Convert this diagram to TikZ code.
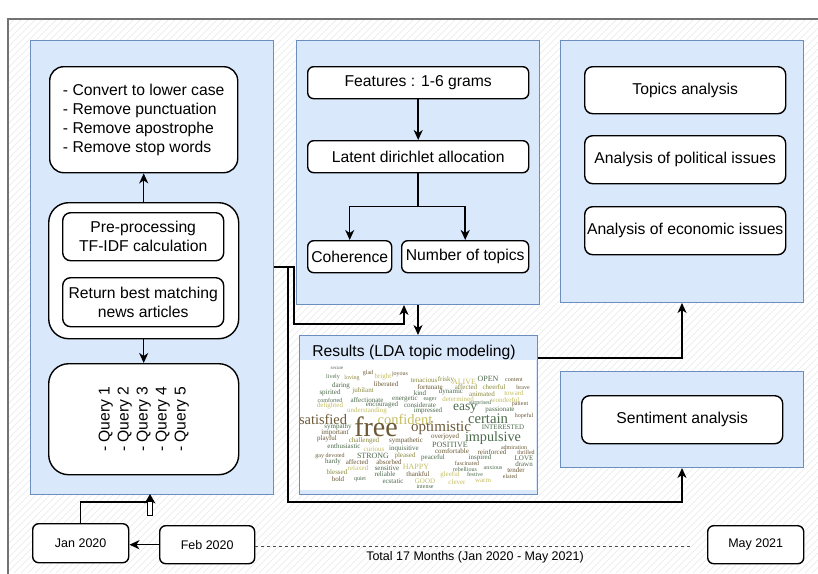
\documentclass[tikz,border=0pt]{standalone}
\usepackage{fontspec}
\setmainfont{Liberation Sans}
\newfontfamily\cloudfont{Liberation Serif}
\usetikzlibrary{arrows.meta,calc}
\definecolor{pfill}{HTML}{DAE8FC}
\definecolor{pline}{HTML}{6C8EBF}
\definecolor{cgreen}{HTML}{4C6A4C}
\definecolor{cbrown}{HTML}{6B5836}
\definecolor{colive}{HTML}{8A8A3C}
\definecolor{cyell}{HTML}{C4BE62}
\newcommand\dgmfont{\fontsize{15.7}{19}\selectfont}
\newcommand\smallfnt{\fontsize{12.5}{15}\selectfont}
\tikzset{
 panel/.style={draw=pline, fill=pfill, line width=1pt, anchor=north west, inner sep=0pt},
 rbox/.style={draw=black, fill=white, line width=1.4pt, rounded corners=#1, anchor=north west, inner sep=0pt, align=center, font=\dgmfont},
 rbox/.default=7pt,
 conn/.style={line width=1.5pt, -{Stealth[length=10pt,width=9pt,inset=3pt]}},
 plain/.style={line width=1.5pt},
 wc/.style={inner sep=0pt, font=\cloudfont\fontsize{#1}{#1}\selectfont},
}
\begin{document}
\begin{tikzpicture}[x=1pt,y=-1pt]
\useasboundingbox (0,0) rectangle (818,573);
\fill[white] (0,0) rectangle (818,573);
% hatched background
\begin{scope}
\clip (8,19) rectangle (818,573);
\foreach \i in {-560,-553,...,818} \draw[black!9, line width=0.5pt] (\i,573) -- ++(560,-560);
\end{scope}
\draw[line width=2pt, black!55] (8,19) rectangle (830,590);

% panel 1
\node[panel, minimum width=243pt, minimum height=454pt] (p1) at (30,40) {};
\node[rbox=14pt, minimum width=188pt, minimum height=106pt, align=left] (conv) at (49,66)
 {- Convert to lower case\\- Remove punctuation\\- Remove apostrophe\\- Remove stop words};
\node[rbox=20pt, minimum width=190pt, minimum height=136pt] (outer) at (48,202) {};
\node[rbox=8pt, minimum width=161pt, minimum height=48pt] (tfidf) at (62,212) {Pre-processing\\TF-IDF calculation};
\node[rbox=8pt, minimum width=161pt, minimum height=49pt] (ret) at (62,277) {Return best matching\\news articles};
\node[rbox=20pt, minimum width=190pt, minimum height=111pt] (query) at (48,363) {};
\node[rotate=90, align=left, font=\dgmfont, inner sep=0pt] (qtext) at (query.center)
 {- Query 1\\- Query 2\\- Query 3\\- Query 4\\- Query 5};
\draw[conn] (outer.north) -- (conv.south);
\draw[conn] (outer.south) -- (query.north);

% panel 2
\node[panel, minimum width=243pt, minimum height=264pt] (p2) at (296,40) {};
\node[rbox=6pt, minimum width=221pt, minimum height=32pt] (feat) at (307,66) {Features : 1-6 grams};
\node[rbox=6pt, minimum width=221pt, minimum height=32pt] (lda) at (307,140) {Latent dirichlet allocation};
\node[rbox=6pt, minimum width=84pt, minimum height=32pt] (coh) at (307,240) {Coherence};
\node[rbox=6pt, minimum width=127pt, minimum height=32pt] (num) at (401,240) {Number of topics};
\draw[conn] (feat.south) -- (lda.north);
\draw[plain] (lda.south) -- ++(0,33) coordinate (br);
\draw[conn] (br) -| (coh.north);
\draw[conn] (br) -| (num.north);

% results panel
\node[panel, minimum width=238pt, minimum height=159pt] (res) at (299,335) {};
\node[anchor=base, font=\dgmfont, inner sep=0pt] (restitle) at (414,356) {Results (LDA topic modeling)};
\fill[white] (300,360) rectangle (536,490);
\begin{scope}
\clip (300,360) rectangle (536,490);
\node[wc=5, text=cgreen] at (337,368) {secure};
\node[wc=6, text=cbrown] at (368,373) {glad};
\node[wc=6, text=cbrown] at (400,374) {joyous};
\node[wc=6, text=cgreen] at (333,377) {lively};
\node[wc=6, text=colive] at (352,378) {loving};
\node[wc=7, text=cyell] at (383,377) {bright};
\node[wc=7, text=colive] at (424,380) {tenacious};
\node[wc=7, text=colive] at (446,380) {frisky};
\node[wc=8, text=cyell] at (464,382) {ALIVE};
\node[wc=8, text=cgreen] at (488,379) {OPEN};
\node[wc=6, text=cbrown] at (514,380) {content};
\node[wc=7, text=cgreen] at (341,386) {daring};
\node[wc=7, text=cbrown] at (386,384) {liberated};
\node[wc=7, text=cbrown] at (430,387) {fortunate};
\node[wc=7, text=colive] at (466,387) {affected};
\node[wc=7, text=colive] at (494,387) {cheerful};
\node[wc=6, text=cbrown] at (523,387) {brave};
\node[wc=7, text=cgreen] at (330,393) {spirited};
\node[wc=7, text=colive] at (363,391) {jubilant};
\node[wc=7, text=cgreen] at (420,393) {kind};
\node[wc=7, text=cgreen] at (451,392) {dynamic};
\node[wc=7, text=colive] at (482,394) {animated};
\node[wc=7, text=cyell] at (514,393) {toward};
\node[wc=6, text=cgreen] at (330,400) {comforted};
\node[wc=7, text=cgreen] at (367,400) {affectionate};
\node[wc=7, text=cgreen] at (405,399) {energetic};
\node[wc=6, text=cgreen] at (430,400) {eager};
\node[wc=7, text=cyell] at (458,399) {determined};
\node[wc=7, text=cyell] at (505,400) {wonderful};
\node[wc=7, text=cyell] at (330,406) {delighted};
\node[wc=7, text=cgreen] at (382,405) {encouraged};
\node[wc=7, text=cgreen] at (420,405) {considerate};
\node[wc=6, text=cgreen] at (480,403) {surprised};
\node[wc=6, text=cbrown] at (520,404) {patient};
\node[wc=7, text=cyell] at (367,411) {understanding};
\node[wc=7, text=cgreen] at (428,411) {impressed};
\node[wc=13.5, text=cgreen] at (465,409) {easy};
\node[wc=7, text=cgreen] at (500,410) {passionate};
\node[wc=6, text=cbrown] at (524,416) {hopeful};
\node[wc=14.4, text=cbrown] at (323,419) {satisfied};
\node[wc=14.5, text=cyell] at (405,419) {confident};
\node[wc=14.7, text=cgreen] at (488,419) {certain};
\node[wc=7, text=cgreen] at (338,427) {sympathy};
\node[wc=7, text=cgreen] at (503,427) {INTERESTED};
\node[wc=28, text=cbrown] at (376,427) {free};
\node[wc=15, text=cbrown] at (441,428) {optimistic};
\node[wc=7, text=cbrown] at (335,433) {important};
\node[wc=7, text=cbrown] at (445,437) {overjoyed};
\node[wc=14.2, text=cgreen] at (493,438) {impulsive};
\node[wc=7, text=cbrown] at (327,439) {playful};
\node[wc=7, text=colive] at (364,441) {challenged};
\node[wc=7, text=cbrown] at (406,441) {sympathetic};
\node[wc=7, text=cgreen] at (344,446) {enthusiastic};
\node[wc=8, text=cgreen] at (450,445) {POSITIVE};
\node[wc=6, text=cbrown] at (514,447) {admiration};
\node[wc=7, text=cyell] at (374,449) {curious};
\node[wc=7, text=cgreen] at (404,449) {inquisitive};
\node[wc=7, text=cbrown] at (452,451) {comfortable};
\node[wc=7, text=cbrown] at (492,452) {reinforced};
\node[wc=6, text=cbrown] at (526,452) {thrilled};
\node[wc=6, text=cbrown] at (330,456) {gay devoted};
\node[wc=8, text=cgreen] at (373,456) {STRONG};
\node[wc=7, text=colive] at (405,456) {pleased};
\node[wc=7, text=cgreen] at (433,458) {peaceful};
\node[wc=7, text=cgreen] at (480,458) {inspired};
\node[wc=7, text=cgreen] at (524,458) {LOVE};
\node[wc=7, text=cgreen] at (333,462) {hardy};
\node[wc=7, text=cbrown] at (357,462) {affected};
\node[wc=7, text=cbrown] at (389,462) {absorbed};
\node[wc=6, text=cbrown] at (467,463) {fascinated};
\node[wc=7, text=cgreen] at (524,464) {drawn};
\node[wc=7, text=cyell] at (358,468) {relaxed};
\node[wc=7, text=cgreen] at (387,468) {sensitive};
\node[wc=8, text=cyell] at (416,467) {HAPPY};
\node[wc=6, text=cgreen] at (465,469) {rebellious};
\node[wc=6, text=cgreen] at (493,468) {anxious};
\node[wc=7, text=cbrown] at (516,470) {tender};
\node[wc=7, text=colive] at (337,472) {blessed};
\node[wc=7, text=cgreen] at (385,474) {reliable};
\node[wc=7, text=cbrown] at (418,474) {thankful};
\node[wc=7, text=cyell] at (450,475) {gleeful};
\node[wc=6, text=cgreen] at (475,474) {festive};
\node[wc=6, text=cbrown] at (510,476) {elated};
\node[wc=7, text=cbrown] at (338,479) {bold};
\node[wc=6, text=cgreen] at (360,479) {quiet};
\node[wc=7, text=cgreen] at (393,481) {ecstatic};
\node[wc=7, text=cyell] at (425,481) {GOOD};
\node[wc=7, text=cyell] at (457,482) {clever};
\node[wc=7, text=cyell] at (483,481) {warm};
\node[wc=6, text=cgreen] at (425,487) {intense};
\end{scope}

% panel 3
\node[panel, minimum width=243pt, minimum height=262pt] (p3) at (560,40) {};
\node[rbox=8pt, minimum width=201pt, minimum height=47pt] (topics) at (584,66) {Topics analysis};
\node[rbox=8pt, minimum width=201pt, minimum height=48pt] (pol) at (584,135) {Analysis of political issues};
\node[rbox=8pt, minimum width=201pt, minimum height=48pt] (eco) at (584,206) {Analysis of economic issues};

% panel 4
\node[panel, minimum width=243pt, minimum height=96pt] (p4) at (560,371) {};
\node[rbox=8pt, minimum width=201pt, minimum height=48pt] (sent) at (581,395) {Sentiment analysis};

% timeline
\node[rbox=6pt, minimum width=96pt, minimum height=39pt, font=\smallfnt] (jan) at (32,523) {Jan 2020};
\node[rbox=6pt, minimum width=95pt, minimum height=38pt, font=\smallfnt] (feb) at (159,525) {Feb 2020};
\node[rbox=6pt, minimum width=96pt, minimum height=38pt, font=\smallfnt] (may) at (707,525) {May 2021};
\draw[black!70, line width=0.8pt, dash pattern=on 3pt off 3pt] ($(feb.east)+(0,2)$) -- ($(may.west)+(-17,2)$);
\node[font=\smallfnt, inner sep=0pt] (total) at (475,557) {Total 17 Months (Jan 2020 - May 2021)};
\draw[conn] (feb.west) -- (feb.west -| jan.east);
\draw[plain] (jan.north) -- ++(0,-21) -- (147.7,502);
\draw[line width=1pt, fill=white] (147.7,515) -- (147.7,501) -- (152.3,501) -- (152.3,515) -- cycle;
\fill (144.5,503.5) -- (150,494) -- (155.5,503.5) -- (150,501) -- cycle;

% connectors between panels
\draw[conn] (p2.south) -- (p2.south |- res.north);
\draw[conn] ($(p1.north east)+(0,227)$) -- ++(20,0) -- ++(0,57) -| ($(p2.south)+(-14,0)$);
\draw[conn] ($(p1.north east)+(0,227)$) -- ++(14,0) -- ++(0,235) -| (p4.south);
\draw[conn] ($(res.north east)+(0,23)$) -| (p3.south);
\end{tikzpicture}
\end{document}
